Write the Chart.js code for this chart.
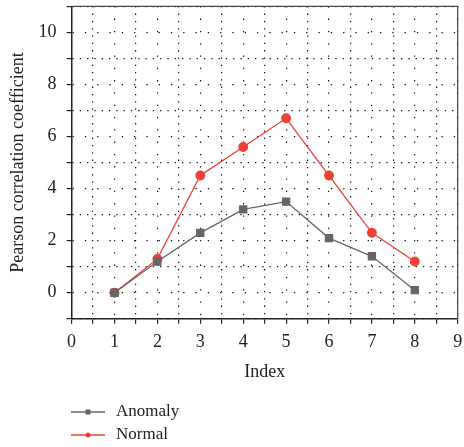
<!DOCTYPE html>
<html>
<head>
<meta charset="utf-8">
<script src="https://cdn.jsdelivr.net/npm/chart.js@4.4.0/dist/chart.umd.min.js"></script>
<style>
  html, body { margin: 0; padding: 0; background: #fff; }
  #wrap { width: 464px; height: 447px; position: relative; }
</style>
</head>
<body>
<div id="wrap"><canvas id="chart" width="464" height="447"></canvas></div>
<script>
const indexes = [1, 2, 3, 4, 5, 6, 7, 8];
const anomalyValues = [0, 1.2, 2.3, 3.2, 3.5, 2.1, 1.4, 0.1];
const normalValues = [0, 1.3, 4.5, 5.6, 6.7, 4.5, 2.3, 1.2];
const xTickLabels = [0, 1, 2, 3, 4, 5, 6, 7, 8, 9];
const yTickLabels = [0, 2, 4, 6, 8, 10];

const GRAY = '#666666';
const RED = '#ef4136';
const FONT = "'Liberation Serif', 'Times New Roman', serif";

function toPoints(values) {
    return indexes.map((x, i) => ({x: x, y: values[i]}));
}

// labelled grid lines get sparse dots, the in-between ones denser dots
function gridDash(labels) {
    return ctx => {
        const v = ctx.tick ? ctx.tick.value : null;
        return labels.includes(v) ? [1.3, 11] : [1.3, 6];
    };
}

// box around plot area (top and right edges)
const frame = {
    id: 'frame',
    afterDraw(chart) {
        const {ctx, chartArea: a} = chart;
        ctx.save();
        ctx.strokeStyle = '#444';
        ctx.lineWidth = 1.2;
        ctx.beginPath();
        ctx.moveTo(a.left, a.top);
        ctx.lineTo(a.right, a.top);
        ctx.lineTo(a.right, a.bottom);
        ctx.stroke();
        ctx.restore();
    }
};

// legend stacked below the axis title, left aligned
const bottomLegend = {
    id: 'bottomLegend',
    afterDraw(chart) {
        const ctx = chart.ctx;
        const x0 = 71, x1 = 105;
        let y = 412;
        chart.data.datasets.forEach(ds => {
            ctx.save();
            ctx.strokeStyle = ds.borderColor;
            ctx.lineWidth = 1.3;
            ctx.beginPath();
            ctx.moveTo(x0, y);
            ctx.lineTo(x1, y);
            ctx.stroke();
            ctx.fillStyle = ds.borderColor;
            const mx = (x0 + x1) / 2;
            if (ds.pointStyle === 'rect') {
                ctx.fillRect(mx - 2.5, y - 2.5, 5, 5);
            } else {
                ctx.beginPath();
                ctx.arc(mx, y, 2.5, 0, Math.PI * 2);
                ctx.fill();
            }
            ctx.fillStyle = '#222';
            ctx.font = '17px ' + FONT;
            ctx.textBaseline = 'middle';
            ctx.fillText(ds.label, 116, y);
            ctx.restore();
            y += 23;
        });
    }
};

new Chart(document.getElementById('chart'), {
    type: 'line',
    data: {
        datasets: [
            {
                label: 'Anomaly',
                data: toPoints(anomalyValues),
                borderColor: GRAY,
                backgroundColor: GRAY,
                borderWidth: 1.3,
                pointStyle: 'rect',
                pointRadius: 5,
                tension: 0
            },
            {
                label: 'Normal',
                data: toPoints(normalValues),
                borderColor: RED,
                backgroundColor: RED,
                borderWidth: 1.3,
                pointStyle: 'circle',
                pointRadius: 4.3,
                tension: 0
            }
        ]
    },
    options: {
        responsive: false,
        animation: false,
        layout: {padding: {top: 6, right: 2, left: 7, bottom: 64}},
        plugins: {
            legend: {display: false},
            tooltip: {enabled: false}
        },
        scales: {
            x: {
                type: 'linear',
                min: 0,
                max: 9,
                afterFit(scale) {
                    scale.paddingLeft = 0;
                    scale.paddingRight = 0;
                },
                grid: {
                    color: '#111',
                    lineWidth: 1.2,
                    tickLength: 5,
                    tickColor: '#222',
                    tickWidth: 1.2
                },
                border: {display: true, color: '#222', width: 1.5, dash: gridDash(xTickLabels)},
                ticks: {
                    stepSize: 0.5,
                    maxTicksLimit: 100,
                    autoSkip: false,
                    maxRotation: 0,
                    padding: 8,
                    color: '#222',
                    font: {family: FONT, size: 18},
                    callback: v => xTickLabels.includes(v) ? String(v) : ''
                },
                title: {
                    display: true,
                    text: 'Index',
                    color: '#222',
                    font: {family: FONT, size: 18},
                    padding: {top: 0, bottom: 0}
                }
            },
            y: {
                min: -1,
                max: 11,
                afterFit(scale) {
                    scale.paddingTop = 0;
                    scale.paddingBottom = 0;
                },
                grid: {
                    color: '#111',
                    lineWidth: 1.2,
                    tickLength: 5,
                    tickColor: '#222',
                    tickWidth: 1.2
                },
                border: {display: true, color: '#222', width: 1.5, dash: gridDash(yTickLabels)},
                ticks: {
                    stepSize: 1,
                    maxTicksLimit: 100,
                    autoSkip: false,
                    padding: 10,
                    color: '#222',
                    font: {family: FONT, size: 18},
                    callback: v => yTickLabels.includes(v) ? String(v) : ''
                },
                title: {
                    display: true,
                    text: 'Pearson correlation coefficient',
                    color: '#222',
                    font: {family: FONT, size: 18},
                    padding: {top: 0, bottom: 0}
                }
            }
        }
    },
    plugins: [frame, bottomLegend]
});
</script>
</body>
</html>
